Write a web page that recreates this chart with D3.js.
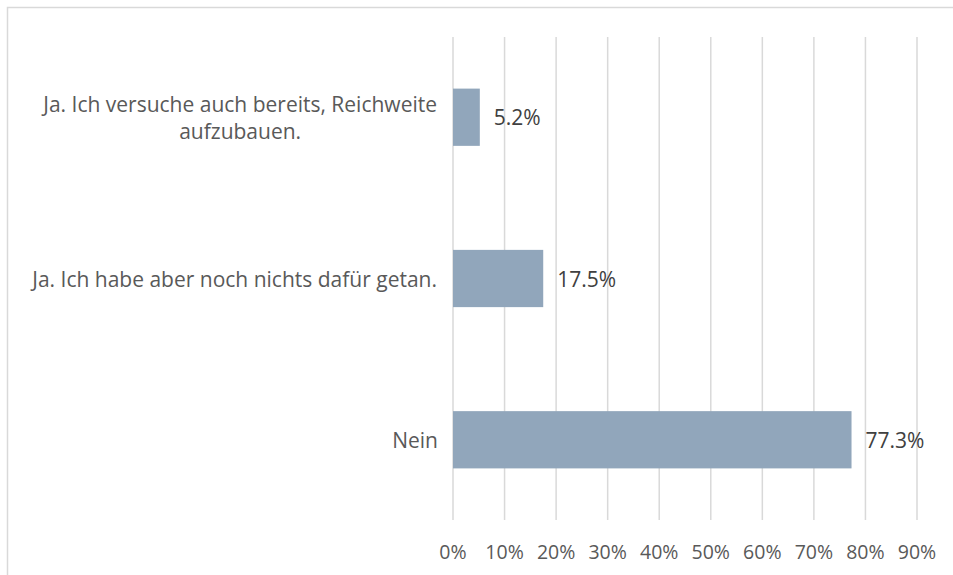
<!DOCTYPE html>
<html>
<head>
<meta charset="utf-8">
<script src="https://cdn.jsdelivr.net/npm/d3@7"></script>
<style>
  body { margin: 0; background: #fff; }
  text { font-family: "Open Sans", sans-serif; }
</style>
</head>
<body>
<svg id="chart"></svg>
<script>
const width = 953, height = 575;

// data
const categories = [
  ["Ja. Ich versuche auch bereits, Reichweite", "aufzubauen."],
  ["Ja. Ich habe aber noch nichts dafür getan."],
  ["Nein"]
];
const values = [5.2, 17.5, 77.3];
const ticks = [0, 10, 20, 30, 40, 50, 60, 70, 80, 90];

const svg = d3.select("#chart")
  .attr("width", width)
  .attr("height", height);

// chart border
svg.append("rect")
  .attr("x", 7.5).attr("y", 7.5)
  .attr("width", 960).attr("height", 600)
  .attr("fill", "none")
  .attr("stroke", "#d9d9d9")
  .attr("stroke-width", 1.5);

const x = d3.scaleLinear()
  .domain([0, 90])
  .range([453, 917]);

const y = d3.scaleBand()
  .domain(d3.range(values.length))
  .range([37, 520])
  .paddingInner(0.645)
  .paddingOuter(0.32);

// gridlines
svg.append("g")
  .selectAll("line")
  .data(ticks)
  .join("line")
  .attr("x1", d => x(d)).attr("x2", d => x(d))
  .attr("y1", 37).attr("y2", 520)
  .attr("stroke", "#d9d9d9")
  .attr("stroke-width", 1.5);

// x tick labels
svg.append("g")
  .selectAll("text")
  .data(ticks)
  .join("text")
  .attr("x", d => x(d))
  .attr("y", 559)
  .attr("text-anchor", "middle")
  .attr("fill", "#595959")
  .style("font-size", "19.5px")
  .text(d => d + "%");

// bars
svg.append("g")
  .selectAll("rect")
  .data(values)
  .join("rect")
  .attr("x", x(0))
  .attr("y", (d, i) => y(i))
  .attr("width", d => x(d) - x(0))
  .attr("height", y.bandwidth())
  .attr("fill", "#91a6bb");

// value labels
svg.append("g")
  .selectAll("text")
  .data(values)
  .join("text")
  .attr("x", d => x(d) + 14)
  .attr("y", (d, i) => y(i) + y.bandwidth() / 2 + 8)
  .attr("fill", "#404040")
  .style("font-size", "21px")
  .text(d => d.toFixed(1) + "%");

// category labels
const labels = svg.append("g")
  .selectAll("text")
  .data(categories)
  .join("text")
  .attr("fill", "#595959")
  .style("font-size", "21px");

labels.each(function(lines, i) {
  const t = d3.select(this);
  const cy = y(i) + y.bandwidth() / 2;
  const lh = 27;
  const y0 = cy - (lines.length - 1) * lh / 2 + 8;
  lines.forEach((line, j) => {
    t.append("tspan")
      .attr("x", 0)
      .attr("y", y0 + j * lh)
      .attr("text-anchor", "middle")
      .text(line);
  });
});

// right-align the label blocks at x = 438, lines centered within the block
labels.each(function() {
  const t = d3.select(this);
  const box = this.getBBox();
  t.attr("transform", `translate(${438 - box.width / 2},0)`);
});
</script>
</body>
</html>
